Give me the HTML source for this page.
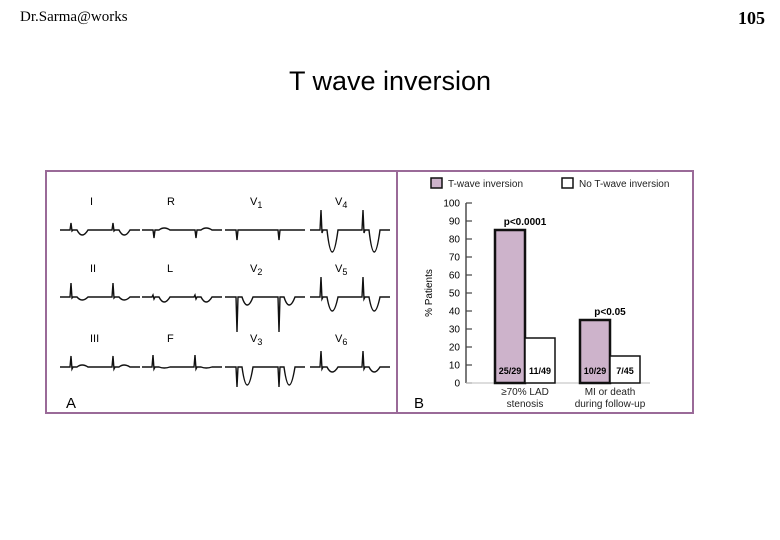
<!DOCTYPE html>
<html><head><meta charset="utf-8"><style>
body{margin:0;width:780px;height:540px;background:#fff;position:relative;overflow:hidden;font-family:"Liberation Sans",sans-serif}
.a{position:absolute}
</style></head><body>
<div class="a" style="left:20px;top:9px;font:15px 'Liberation Serif',serif;">Dr.Sarma@works</div>
<div class="a" style="left:738px;top:8px;font:bold 18px 'Liberation Serif',serif;">105</div>
<div class="a" style="left:0;width:780px;text-align:center;top:66px;font-size:27px;">T wave inversion</div>
<svg class="a" style="left:0;top:0" width="780" height="540">
<rect x="46" y="171" width="647" height="242" fill="none" stroke="#9a6a98" stroke-width="2"/>
<line x1="397" y1="171" x2="397" y2="413" stroke="#9a6a98" stroke-width="2"/>
<g id="ecg"></g>
<text x="66" y="408" font-size="15">A</text>
<g id="chart"></g>
</svg>
<script>
const categories=["\u226570% LAD|stenosis","MI or death|during follow-up"];
const seriesNames=["T-wave inversion","No T-wave inversion"];
const tInv=[85,35];
const noTInv=[25,15];
const counts=[["25/29","11/49"],["10/29","7/45"]];
const pvals=["p<0.0001","p<0.05"];
const yTicks=[0,10,20,30,40,50,60,70,80,90,100];
const leads=["I","R","V1","V4","II","L","V2","V5","III","F","V3","V6"];
const NS="http://www.w3.org/2000/svg";
function mk(t,a,p,txt){const e=document.createElementNS(NS,t);for(const k in a)e.setAttribute(k,a[k]);if(txt!==undefined)e.textContent=txt;p.appendChild(e);return e;}
const chart=document.getElementById('chart');
const y0=383,yScale=1.8;
function Y(v){return y0-v*yScale;}
const ax=mk('line',{x1:466,y1:Y(0),x2:466,y2:Y(100),stroke:'#222','stroke-width':1.2},chart);

yTicks.forEach(t=>{
 const l=mk('line',{x1:466,y1:Y(t),x2:472,y2:Y(t),stroke:'#444','stroke-width':1.2},chart);
 
 const tx=mk('text',{x:460,y:Y(t)+3.5,'font-size':10,'text-anchor':'end'},chart,t);
 
});
const bl=mk('line',{x1:466,y1:Y(0),x2:650,y2:Y(0),stroke:'#bbb','stroke-width':1},chart);

const yt=mk('text',{x:0,y:0,'font-size':10,'text-anchor':'middle',transform:'translate(432,293) rotate(-90)'},chart,'% Patients');

const groupX=[495,580],bw=30;
categories.forEach((c,i)=>{
 const x=groupX[i];
 const b1=mk('rect',{x:x,y:Y(tInv[i]),width:bw,height:tInv[i]*yScale,fill:'#cdb3cb',stroke:'#111','stroke-width':2.5},chart);
 
 const b2=mk('rect',{x:x+bw,y:Y(noTInv[i]),width:bw,height:noTInv[i]*yScale,fill:'#fff',stroke:'#111','stroke-width':1.5},chart);
 
 const c1=mk('text',{x:x+bw/2,y:Y(0)-9,'font-size':9,'font-weight':'bold','text-anchor':'middle'},chart,counts[i][0]);
 
 const c2=mk('text',{x:x+bw*1.5,y:Y(0)-9,'font-size':9,'font-weight':'bold','text-anchor':'middle'},chart,counts[i][1]);
 
 const p=mk('text',{x:x+bw,y:Y(tInv[i])-5,'font-size':10,'font-weight':'bold','text-anchor':'middle'},chart,pvals[i]);
 
 c.split('|').forEach((ln,j)=>{
  const t=mk('text',{x:x+bw,y:395+j*12,'font-size':10,'text-anchor':'middle',fill:'#222'},chart,ln);
  
 });
});
[[431,seriesNames[0],'#cdb3cb'],[562,seriesNames[1],'#fff']].forEach(([lx,name,f])=>{
 const r=mk('rect',{x:lx,y:178,width:11,height:10,fill:f,stroke:'#111','stroke-width':1.5},chart);
 
 const t=mk('text',{x:lx+17,y:187,'font-size':10,fill:'#222'},chart,name);
 
});
const bt=mk('text',{x:414,y:408,'font-size':15},chart,'B');

// ECG traces
const ecg=document.getElementById('ecg');
const colX=[60,142,225,310],rowY=[230,297,367];
// per-lead: R height, S depth, T deflection (negative = inverted)
const rH=[7,0,0,20,14,2,0,20,11,12,0,16];
const sD=[1,8,10,3,1,2,35,2,2,2,20,2];
const tD=[-5,2,0,-22,-3,-5,-8,-14,2,-1,-18,-5];
function trace(cx,by,i){
 let d=`M${cx},${by}`;
 [10,52].forEach(o=>{
  const x=cx+o;
  d+=` L${x},${by} L${x+1},${by-rH[i]} L${x+2},${by+sD[i]} L${x+3},${by} L${x+7},${by} Q${x+12},${by-tD[i]*2} ${x+18},${by}`;
 });
 d+=` L${cx+80},${by}`;
 return d;
}
leads.forEach((n,i)=>{
 const r=Math.floor(i/4),c=i%4,cx=colX[c],by=rowY[r];
 const p=mk('path',{d:trace(cx,by,i),fill:'none',stroke:'#111','stroke-width':1.4},ecg);
 
 const isV=n[0]==='V';
 const t=mk('text',{x:cx+(c===0?30:25),y:by-25,'font-size':11},ecg);
 
 if(isV){t.textContent='V';const s=mk('tspan',{dy:3,'font-size':9},t,n.slice(1));}else t.textContent=n;
});
</script>
</body></html>
